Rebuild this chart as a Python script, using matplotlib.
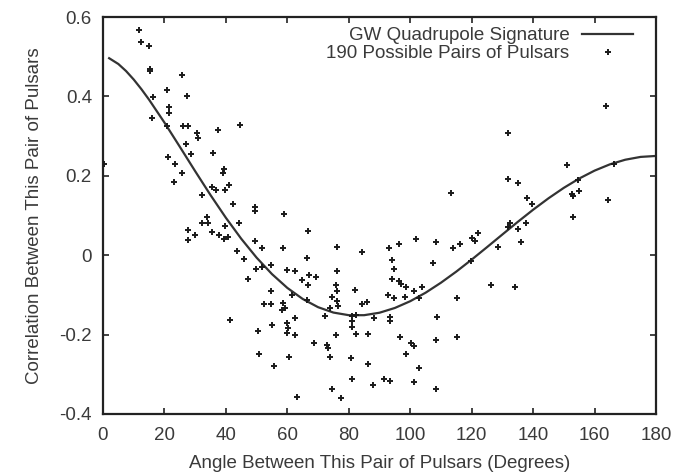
import matplotlib
matplotlib.use("Agg")
import matplotlib.pyplot as plt
from matplotlib.ticker import FixedLocator, FuncFormatter

plt.rcParams['font.family'] = ['Liberation Sans', 'DejaVu Sans']

# Hellings-Downs quadrupole signature, tabulated in degrees
curve_angle = [2, 5, 7.5, 10, 12.5, 15, 20, 25, 30, 35, 40, 45, 50, 55, 60, 65, 70, 75, 80,
               85, 90, 95, 100, 105, 110, 115, 120, 125, 130, 135, 140, 145, 150, 155, 160,
               165, 170, 175, 180]
curve_corr = [0.4962, 0.4816, 0.4639, 0.4425, 0.4182, 0.3917, 0.3341, 0.2732, 0.2116, 0.1514,
              0.0942, 0.0414, -0.0062, -0.0476, -0.0824, -0.1102, -0.1309, -0.1445, -0.1511,
              -0.1511, -0.1449, -0.1329, -0.1159, -0.0945, -0.0693, -0.0413, -0.0111, 0.0203,
              0.0522, 0.0839, 0.1145, 0.1433, 0.1697, 0.1931, 0.2130, 0.2289, 0.2405, 0.2476,
              0.25]

# Measured correlation for each pulsar pair (angle in degrees, correlation)
pair_angle = [
    0.3, 11.8, 12.4, 15.0, 15.3, 15.3, 25.6, 20.7, 16.2, 27.4, 21.5, 21.5, 15.8, 20.7, 26.1,
    27.8, 44.6, 37.5, 30.5, 31.0, 26.9, 35.9, 28.6, 21.3, 23.4, 39.4, 39.2, 25.6, 23.1, 41.0,
    35.4, 36.8, 39.7, 32.1, 42.4, 49.5,
    113.2,
    163.7, 131.7, 151.1, 166.4, 131.9, 135.2, 154.7, 152.7, 153.1, 154.9, 164.3, 137.9,
    139.5,
    153.1, 132.5, 131.7, 135.2, 137.6, 136.1, 128.7, 120.2, 121.1, 122.2, 116.2, 119.7, 126.3,
    134.1,
    58.9, 66.8, 58.7, 76.1, 84.2, 93.2, 96.3, 101.8, 108.4, 114.0, 66.3, 94.2, 107.5, 59.8,
    62.5, 67.2, 69.3, 64.7, 66.8, 76.3, 94.8, 94.0, 96.5, 96.9, 98.5, 101.3, 103.9, 75.8,
    76.3, 82.0, 61.6, 66.5, 74.4, 76.3, 76.6, 92.7, 94.8, 98.3, 103.0, 115.1, 58.7, 59.2,
    58.2, 73.9, 84.2, 86.0, 72.3, 81.0, 82.4, 81.0, 81.0, 88.3, 93.4, 93.4, 108.8, 62.5,
    59.8, 60.3, 60.0, 62.5, 75.8, 82.4, 86.4, 68.7, 72.8, 73.3, 96.7, 100.3, 101.2, 108.4,
    115.1, 60.6, 73.9, 80.6, 98.5, 86.4, 102.9, 81.0, 91.5, 93.4, 101.2, 88.0, 74.4, 108.4,
    63.2, 77.4,
    49.5, 33.9, 32.1, 34.3, 27.6, 29.9, 27.6, 35.4, 37.9, 39.4, 40.8, 39.7, 44.4, 43.5, 46.0,
    49.5, 51.9, 49.8, 51.7, 54.6, 47.3, 54.7, 52.4, 54.6, 41.3, 50.4, 54.9, 50.9, 55.8,
]
pair_corr = [
    0.229, 0.566, 0.537, 0.527, 0.470, 0.463, 0.453, 0.417, 0.398, 0.400, 0.374, 0.358, 0.346,
    0.325, 0.325, 0.325, 0.329, 0.315, 0.308, 0.296, 0.281, 0.258, 0.254, 0.247, 0.230, 0.218,
    0.207, 0.207, 0.184, 0.178, 0.172, 0.164, 0.165, 0.151, 0.128, 0.121,
    0.157,
    0.375, 0.307, 0.227, 0.230, 0.192, 0.182, 0.189, 0.154, 0.149, 0.161, 0.138, 0.144,
    0.130,
    0.096, 0.081, 0.071, 0.067, 0.080, 0.034, 0.021, 0.044, 0.037, 0.055, 0.028, -0.015, -0.076,
    -0.080,
    0.104, 0.060, 0.018, 0.020, 0.008, 0.018, 0.029, 0.040, 0.034, 0.018, -0.007, -0.011,
    -0.019, -0.038, -0.040, -0.049, -0.055, -0.063, -0.076, -0.039, -0.034, -0.061, -0.064,
    -0.072, -0.080, -0.089, -0.081, -0.074, -0.091, -0.088, -0.101, -0.114, -0.106, -0.116,
    -0.128, -0.099, -0.108, -0.105, -0.108, -0.109, -0.120, -0.133, -0.137, -0.134, -0.124,
    -0.118, -0.154, -0.152, -0.151, -0.166, -0.181, -0.158, -0.156, -0.165, -0.156, -0.158,
    -0.170, -0.183, -0.196, -0.200, -0.200, -0.198, -0.198, -0.221, -0.227, -0.235, -0.207,
    -0.221, -0.229, -0.214, -0.207, -0.256, -0.256, -0.259, -0.249, -0.275, -0.284, -0.311,
    -0.311, -0.316, -0.319, -0.328, -0.338, -0.337, -0.357, -0.359,
    0.111, 0.096, 0.080, 0.080, 0.063, 0.050, 0.038, 0.059, 0.052, 0.040, 0.046, 0.073, 0.080,
    0.010, -0.009, 0.035, 0.018, -0.036, -0.030, -0.025, -0.060, -0.089, -0.123, -0.123,
    -0.164, -0.190, -0.177, -0.249, -0.280,
]

x_ticks = [0, 20, 40, 60, 80, 100, 120, 140, 160, 180]
y_ticks = [-0.4, -0.2, 0, 0.2, 0.4, 0.6]

text_color = '#3a3a3a'
fs = 13.5

fig = plt.figure(figsize=(6.75, 4.72), dpi=100)
ax = fig.add_axes([103 / 675, 1 - 414 / 472, 553 / 675, 397 / 472])

ax.plot(curve_angle, curve_corr, color='#333333', lw=1.6,
        label='GW Quadrupole Signature', zorder=2)
ax.plot(pair_angle, pair_corr, ls='none', marker='+', ms=4.5, mew=1.4,
        color='#1a1a1a', label='190 Possible Pairs of Pulsars', zorder=3)

ax.set_xlim(0, 180)
ax.set_ylim(-0.4, 0.6)
ax.xaxis.set_major_locator(FixedLocator(x_ticks))
ax.yaxis.set_major_locator(FixedLocator(y_ticks))
ax.yaxis.set_major_formatter(FuncFormatter(lambda v, p: f'{v:g}'))

ax.tick_params(direction='in', length=4, width=1.2, top=True, right=True,
               labelsize=fs, labelcolor=text_color, color='#222222')
ax.tick_params(axis='x', pad=9)
ax.tick_params(axis='y', pad=8)
for s in ax.spines.values():
    s.set_linewidth(1.6)
    s.set_color('#222222')

ax.set_xlabel('Angle Between This Pair of Pulsars (Degrees)', fontsize=fs,
              color=text_color, labelpad=8)
ax.set_ylabel('Correlation Between This Pair of Pulsars', fontsize=fs,
              color=text_color, labelpad=12)

leg = ax.legend(loc='upper right', bbox_to_anchor=(0.9755, 0.998), frameon=False,
                markerfirst=False, fontsize=fs, numpoints=1, handlelength=2.7,
                handletextpad=0.7, borderaxespad=0.0, borderpad=0.5,
                labelspacing=0.05)
for t in leg.get_texts():
    t.set_color(text_color)

fig.savefig('out.png', dpi=100)
